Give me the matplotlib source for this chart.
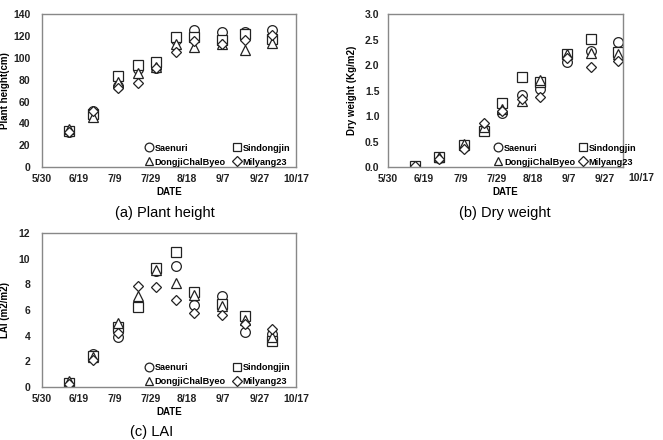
import matplotlib
matplotlib.use("Agg")
import matplotlib.pyplot as plt
import matplotlib.transforms as mtransforms

# days after 5/30
days = [15, 28, 42, 53, 63, 74, 84, 99, 112, 127]
tick_days = [0, 20, 40, 60, 80, 100, 120, 140]
tick_labels = ["5/30", "6/19", "7/9", "7/29", "8/18", "9/7", "9/27", "10/17"]

varieties = ["Saenuri", "Sindongjin", "DongjiChalByeo", "Milyang23"]
markers = ["o", "s", "^", "D"]

height_saenuri = [32, 51, 74, 90, 91, 116, 125, 124, 124, 125]
height_sindongjin = [33, 49, 83, 93, 96, 119, 119, 116, 122, 117]
height_dongji = [35, 46, 78, 86, 92, 113, 110, 113, 107, 114]
height_milyang = [32, 51, 72, 77, 91, 105, 115, 113, 116, 121]

dw_saenuri = [0.02, 0.18, 0.40, 0.75, 1.07, 1.42, 1.53, 2.07, 2.28, 2.46]
dw_sindongjin = [0.03, 0.20, 0.44, 0.70, 1.25, 1.76, 1.67, 2.22, 2.52, 2.26]
dw_dongji = [0.03, 0.20, 0.45, 0.78, 1.14, 1.30, 1.70, 2.22, 2.23, 2.22]
dw_milyang = [0.02, 0.17, 0.36, 0.86, 1.10, 1.33, 1.37, 2.13, 1.97, 2.08]

lai_saenuri = [0.25, 2.6, 3.9, 6.4, 9.0, 9.4, 6.4, 7.1, 4.3, 4.1]
lai_sindongjin = [0.3, 2.4, 4.7, 6.2, 9.3, 10.5, 7.4, 6.5, 5.5, 3.6]
lai_dongji = [0.45, 2.3, 5.0, 7.1, 9.1, 8.1, 7.2, 6.3, 5.2, 3.9]
lai_milyang = [0.2, 2.1, 4.2, 7.9, 7.8, 6.8, 5.8, 5.6, 4.9, 4.5]

plt.rcParams['font.family'] = ['Liberation Sans', 'DejaVu Sans']
fig = plt.figure(figsize=(6.63, 4.40), dpi=100)

FS = 7.5


def draw(ax, series, ylabel, ymax, ystep, yfmt, xmax, leg_x, colsp, ylab_x, ypad):
    handles = []
    for name, m, vals in zip(varieties, markers, series):
        ms = 5.3 if m == "D" else 7
        h, = ax.plot(days, vals, linestyle="none", marker=m, markersize=ms,
                     markerfacecolor="white", markeredgecolor="#222222",
                     markeredgewidth=0.9, label=name)
        handles.append(h)
    ax.set_xlim(0, xmax)
    ax.set_ylim(0, ymax)
    ax.set_xticks([d for d in tick_days if d <= xmax])
    ax.set_xticklabels([l for d, l in zip(tick_days, tick_labels) if d <= xmax])
    yt = []
    v = 0.0
    while v <= ymax + 1e-9:
        yt.append(v)
        v += ystep
    ax.set_yticks(yt)
    ax.set_yticklabels([yfmt.format(t) for t in yt])
    for lab in ax.get_xticklabels() + ax.get_yticklabels():
        lab.set_fontweight("bold")
        lab.set_fontsize(FS)
        lab.set_color("#222222")
    ax.tick_params(axis="x", length=0, pad=5)
    ax.tick_params(axis="y", length=0, pad=ypad)
    for s in ax.spines.values():
        s.set_color("#888888")
        s.set_linewidth(1.0)
    ax.set_xlabel("DATE", fontsize=7, fontweight="bold", labelpad=2)
    ax.set_ylabel(ylabel, fontsize=7, fontweight="bold")
    ax.yaxis.set_label_coords(ylab_x, 0.5)
    # row order: Saenuri, Sindongjin / DongjiChalByeo, Milyang23
    order = [0, 2, 1, 3]
    ax.legend([handles[i] for i in order], [varieties[i] for i in order],
              loc="lower left", bbox_to_anchor=(leg_x, -0.02), ncol=2,
              frameon=False, prop={"weight": "bold", "size": 6.6},
              handletextpad=0.05, columnspacing=colsp, labelspacing=0.55,
              borderaxespad=0.0, handlelength=1.2, markerscale=0.9)


ax1 = fig.add_axes([0.0633, 0.620, 0.383, 0.348])
draw(ax1, [height_saenuri, height_sindongjin, height_dongji, height_milyang],
     "Plant height(cm)", 140, 20, "{:.0f}", 140, 0.385, 0.55, -0.125, 8.5)

ax2 = fig.add_axes([0.585, 0.620, 0.355, 0.348])
draw(ax2, [dw_saenuri, dw_sindongjin, dw_dongji, dw_milyang],
     "Dry weight (Kg/m2)", 3.0, 0.5, "{:.1f}", 130, 0.43, 0.2, -0.13, 6)
# the 10/17 label sits past the end of this axis in the original
trans = mtransforms.blended_transform_factory(ax2.transData, ax2.transAxes)
ax2.text(140, -0.035, "10/17", transform=trans, ha="center", va="top",
         fontsize=FS, fontweight="bold", color="#222222", clip_on=False)

ax3 = fig.add_axes([0.0633, 0.1205, 0.383, 0.350])
draw(ax3, [lai_saenuri, lai_sindongjin, lai_dongji, lai_milyang],
     "LAI (m2/m2)", 12, 2, "{:.0f}", 140, 0.385, 0.55, -0.125, 8.5)

fig.text(0.249, 0.516, "(a) Plant height", ha="center", va="center", fontsize=10.5)
fig.text(0.762, 0.516, "(b) Dry weight", ha="center", va="center", fontsize=10.5)
fig.text(0.229, 0.018, "(c) LAI", ha="center", va="center", fontsize=10.5)

fig.savefig("out.png", dpi=100)
